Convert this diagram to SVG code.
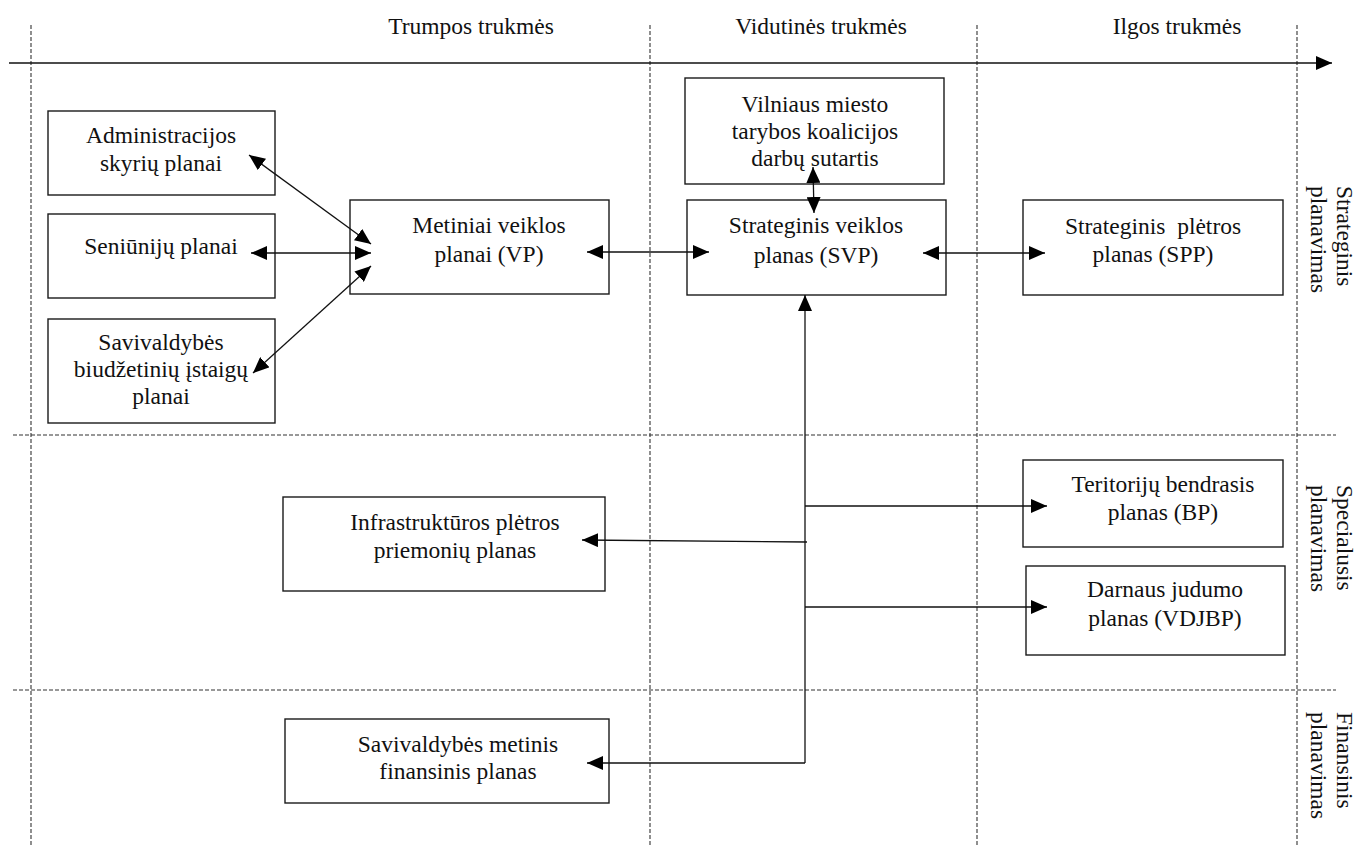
<svg xmlns="http://www.w3.org/2000/svg" width="1356" height="845" viewBox="0 0 1356 845">
<style>
  .bg { fill: #ffffff; }
  .box { fill: #ffffff; stroke: #1a1a1a; stroke-width: 1.4; }
  text { font-family: "Liberation Serif", "Times New Roman", Times, "DejaVu Serif", serif; font-size: 23.5px; fill: #111111; }
  .t { text-anchor: middle; }
  .h { text-anchor: middle; }
  .r { text-anchor: start; }
  .dash { stroke: #333333; stroke-width: 1.1; stroke-dasharray: 4 2; fill: none; }
  .ln { stroke: #111111; stroke-width: 1.3; fill: none; }
  .arr { marker-end: url(#ah); }
  .arr2 { marker-start: url(#ah); marker-end: url(#ah); }
</style>
<defs>
  <marker id="ah" viewBox="0 0 16 14" refX="16" refY="7" markerWidth="16" markerHeight="14" markerUnits="userSpaceOnUse" orient="auto-start-reverse">
    <path d="M0,0 L16,7 L0,14 z" fill="#000000"/>
  </marker>
</defs>
<rect class="bg" x="0" y="0" width="1356" height="845"/>

<g id="grid">
  <line class="dash" x1="31" y1="25" x2="31" y2="845"/>
  <line class="dash" x1="650" y1="25" x2="650" y2="845"/>
  <line class="dash" x1="977" y1="25" x2="977" y2="845"/>
  <line class="dash" x1="1297" y1="25" x2="1297" y2="845"/>
  <line class="dash" x1="13" y1="435" x2="1336" y2="435"/>
  <line class="dash" x1="13" y1="690" x2="1336" y2="690"/>
</g>

<g id="timeline">
  <line class="ln arr" x1="9" y1="63" x2="1332" y2="63"/>
  <text class="h" x="471" y="34">Trumpos trukmės</text>
  <text class="h" x="821" y="34">Vidutinės trukmės</text>
  <text class="h" x="1177" y="34">Ilgos trukmės</text>
</g>

<g id="lane-labels">
  <g id="lbl-strateginis">
    <text class="r" transform="translate(1337,186) rotate(90)">Strateginis</text>
    <text class="r" transform="translate(1311,186) rotate(90)">planavimas</text>
  </g>
  <g id="lbl-specialusis">
    <text class="r" transform="translate(1337,485) rotate(90)">Specialusis</text>
    <text class="r" transform="translate(1311,485) rotate(90)">planavimas</text>
  </g>
  <g id="lbl-finansinis">
    <text class="r" transform="translate(1337,712) rotate(90)">Finansinis</text>
    <text class="r" transform="translate(1311,712) rotate(90)">planavimas</text>
  </g>
</g>

<g id="node-admin">
  <rect class="box" x="48" y="111" width="227" height="84"/>
  <text class="t"><tspan x="161" y="143">Administracijos</tspan><tspan x="161" y="171">skyrių planai</tspan></text>
</g>
<g id="node-seniunijos">
  <rect class="box" x="48" y="214" width="227" height="84"/>
  <text class="t" x="161" y="254">Seniūnijų planai</text>
</g>
<g id="node-biudzetines">
  <rect class="box" x="48" y="319" width="227" height="104"/>
  <text class="t"><tspan x="161" y="350">Savivaldybės</tspan><tspan x="161" y="377">biudžetinių įstaigų</tspan><tspan x="161" y="404">planai</tspan></text>
</g>
<g id="node-vp">
  <rect class="box" x="350" y="200" width="259" height="94"/>
  <text class="t"><tspan x="489" y="233">Metiniai veiklos</tspan><tspan x="489" y="262">planai (VP)</tspan></text>
</g>
<g id="node-koalicija">
  <rect class="box" x="685" y="78" width="259" height="106"/>
  <text class="t"><tspan x="815" y="112">Vilniaus miesto</tspan><tspan x="815" y="139">tarybos koalicijos</tspan><tspan x="815" y="166">darbų sutartis</tspan></text>
</g>
<g id="node-svp">
  <rect class="box" x="687" y="200" width="259" height="95"/>
  <text class="t"><tspan x="816" y="233">Strateginis veiklos</tspan><tspan x="816" y="263">planas (SVP)</tspan></text>
</g>
<g id="node-spp">
  <rect class="box" x="1023" y="200" width="260" height="95"/>
  <text class="t" xml:space="preserve"><tspan x="1153" y="234">Strateginis  plėtros</tspan><tspan x="1153" y="262">planas (SPP)</tspan></text>
</g>
<g id="node-bp">
  <rect class="box" x="1023" y="460" width="260" height="87"/>
  <text class="t"><tspan x="1163" y="492">Teritorijų bendrasis</tspan><tspan x="1163" y="520">planas (BP)</tspan></text>
</g>
<g id="node-vdjbp">
  <rect class="box" x="1026" y="566" width="259" height="89"/>
  <text class="t"><tspan x="1165" y="597">Darnaus judumo</tspan><tspan x="1165" y="626">planas (VDJBP)</tspan></text>
</g>
<g id="node-infra">
  <rect class="box" x="283" y="497" width="322" height="94"/>
  <text class="t"><tspan x="455" y="530">Infrastruktūros plėtros</tspan><tspan x="455" y="558">priemonių planas</tspan></text>
</g>
<g id="node-finansinis">
  <rect class="box" x="285" y="719" width="324" height="84"/>
  <text class="t"><tspan x="458" y="752">Savivaldybės metinis</tspan><tspan x="458" y="779">finansinis planas</tspan></text>
</g>

<g id="connectors">
  <line class="ln arr2" x1="249" y1="155" x2="371" y2="244"/>
  <line class="ln arr2" x1="251" y1="253" x2="371" y2="253"/>
  <line class="ln arr2" x1="253" y1="373" x2="371" y2="266"/>
  <line class="ln arr2" x1="587" y1="252" x2="709" y2="252"/>
  <line class="ln arr2" x1="813" y1="167" x2="814" y2="213"/>
  <line class="ln arr2" x1="923" y1="253" x2="1045" y2="253"/>
  <line class="ln arr" x1="805" y1="763" x2="805" y2="295"/>
  <line class="ln arr" x1="807" y1="542" x2="582" y2="540"/>
  <line class="ln arr" x1="805" y1="506" x2="1047" y2="506"/>
  <line class="ln arr" x1="805" y1="607" x2="1047" y2="607"/>
  <line class="ln arr" x1="805" y1="763" x2="587" y2="763"/>
</g>
</svg>
